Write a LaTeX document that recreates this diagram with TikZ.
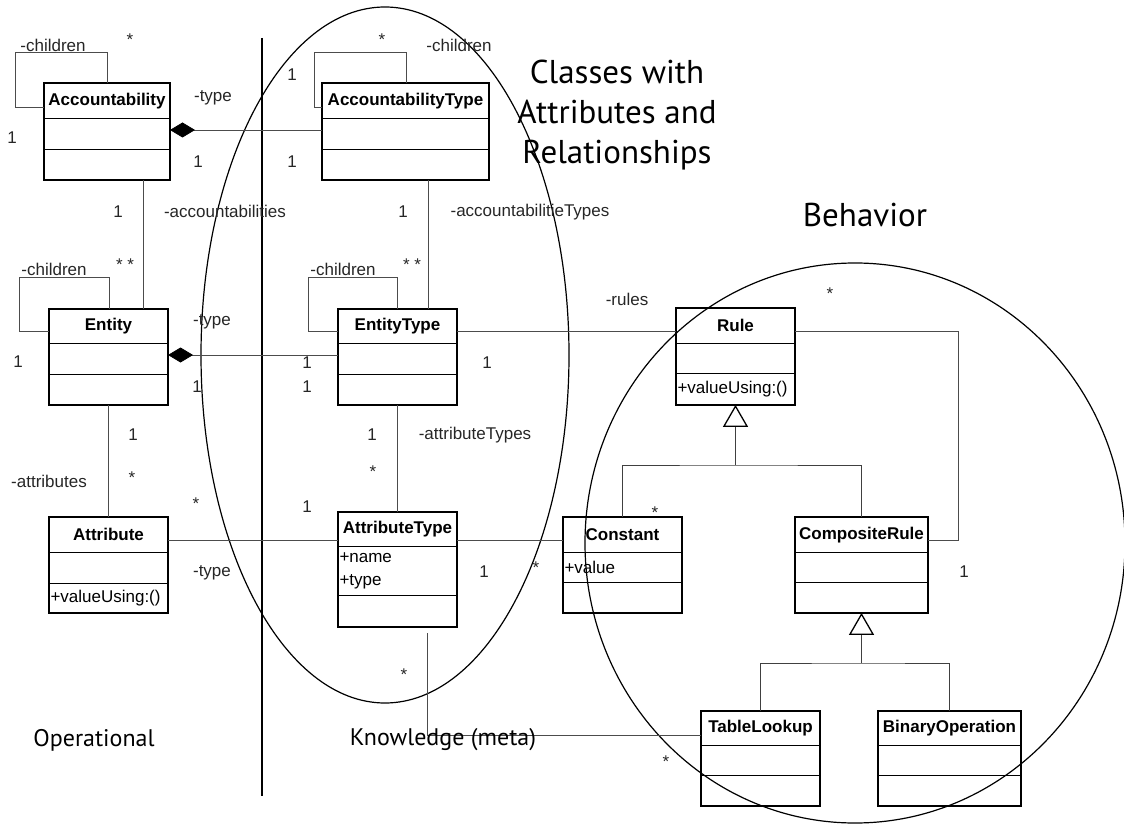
\documentclass[tikz,border=0pt]{standalone}
\usepackage{fontspec}
\setmainfont{Liberation Sans}
\newfontfamily\titlefont{PT Sans}
\usetikzlibrary{arrows.meta,shapes.multipart,positioning}

% class box compartments: {width}{height}{text}
\newcommand{\hd}[3]{\parbox[c][#2pt][c]{#1pt}{\centering\bfseries #3}}
\newcommand{\cp}[3]{\parbox[c][#2pt][c]{#1pt}{\raggedright\leftskip=1.5pt\relax #3}}

\begin{document}
\begin{tikzpicture}[x=1pt,y=-1pt,
    font=\fontsize{17}{23}\selectfont,
    cls/.style={rectangle split,rectangle split parts=3,draw,line width=1.3pt,
                inner sep=0pt,outer sep=0pt,anchor=north west},
    assoc/.style={draw=black!70,line width=0.8pt},
    comp/.style={{Diamond[length=25pt,width=15pt,color=black]}-},
    inh/.style={draw=black!75,line width=0.9pt},
    gen/.style={-{Triangle[open,length=22pt,width=25pt,line width=1.3pt,color=black]}},
    lbl/.style={inner sep=0pt,text=black!85},
    big/.style={inner sep=0pt,font=\titlefont\fontsize{33}{40}\selectfont,align=center},
    region/.style={line width=1.2pt}]

  \useasboundingbox (0,0) rectangle (1124,826);

  % regions
  \draw[region] (385,355) ellipse [x radius=184pt,y radius=348pt];
  \draw[region] (855,543) ellipse [x radius=270pt,y radius=280pt];
  \draw[line width=2.6pt] (262,38) -- (262,796);

  % operational classes
  \node[cls] (acc) at (44,83) {\hd{126}{34}{Accountability}\nodepart{two}\cp{126}{30}{}\nodepart{three}\cp{126}{29}{}};
  \node[cls] (entity) at (49,309) {\hd{119}{33}{Entity}\nodepart{two}\cp{119}{30}{}\nodepart{three}\cp{119}{29}{}};
  \node[cls] (attribute) at (49,517) {\hd{119}{34}{Attribute}\nodepart{two}\cp{119}{30}{}\nodepart{three}\cp{119}{28}{+valueUsing:()}};

  % knowledge classes
  \node[cls] (acctype) at (322,83) {\hd{167}{34}{AccountabilityType}\nodepart{two}\cp{167}{30}{}\nodepart{three}\cp{167}{29}{}};
  \node[cls] (entitytype) at (338,309) {\hd{119}{33}{EntityType}\nodepart{two}\cp{119}{30}{}\nodepart{three}\cp{119}{29}{}};
  \node[cls] (attrtype) at (338,512) {\hd{119}{33}{AttributeType}\nodepart{two}\cp{119}{48}{+name\\+type}\nodepart{three}\cp{119}{30}{}};

  % behavior classes
  \node[cls] (rule) at (676,308) {\hd{119}{34}{Rule}\nodepart{two}\cp{119}{29}{}\nodepart{three}\cp{119}{30}{+valueUsing:()}};
  \node[cls] (constant) at (563,517) {\hd{119}{34}{Constant}\nodepart{two}\cp{119}{29}{+value}\nodepart{three}\cp{119}{29}{}};
  \node[cls] (comprule) at (795,517) {\hd{133}{34}{CompositeRule}\nodepart{two}\cp{133}{29}{}\nodepart{three}\cp{133}{29}{}};
  \node[cls] (tablelookup) at (701,711) {\hd{119}{33}{TableLookup}\nodepart{two}\cp{119}{29}{}\nodepart{three}\cp{119}{29}{}};
  \node[cls] (binop) at (878,711) {\hd{143}{33}{BinaryOperation}\nodepart{two}\cp{143}{29}{}\nodepart{three}\cp{143}{29}{}};

  \coordinate (kn) at (427,633);

  % self associations
  \draw[assoc] (acc.west |- 0,107) -| (15,52) -| (acc.north -| 107,0);
  \draw[assoc] (acctype.west |- 0,107) -| (314,52) -| (acctype.north -| 406,0);
  \draw[assoc] (entity.west |- 0,331) -| (19,277) -| (entity.north -| 109,0);
  \draw[assoc] (entitytype.west |- 0,331) -| (308,277) -| (entitytype.north -| 397,0);

  % associations
  \draw[assoc,comp] (acc.east |- 0,130) -- (acctype.west |- 0,130);
  \draw[assoc,comp] (entity.east |- 0,355) -- (entitytype.west |- 0,355);
  \draw[assoc] (acc.south -| 143,0) -- (entity.north -| 143,0);
  \draw[assoc] (acctype.south -| 428,0) -- (entitytype.north -| 428,0);
  \draw[assoc] (entity.south) -- (attribute.north);
  \draw[assoc] (entitytype.south) -- (attrtype.north);
  \draw[assoc] (attribute.east |- 0,540) -- (attrtype.west |- 0,540);
  \draw[assoc] (attrtype.east |- 0,540) -- (constant.west |- 0,540);
  \draw[assoc] (entitytype.east |- 0,331) -- (rule.west |- 0,331);
  \draw[assoc] (rule.east |- 0,331) -| (958,540) -- (comprule.east |- 0,540);
  \draw[assoc] (kn) |- (tablelookup.west |- 0,735);

  % generalizations
  \draw[inh] (constant.north) |- (rule.south |- 0,465) -| (comprule.north);
  \draw[inh,gen] (rule.south |- 0,465) -- (rule.south);
  \draw[inh] (tablelookup.north) |- (comprule.south |- 0,663) -| (binop.north);
  \draw[inh,gen] (comprule.south |- 0,663) -- (comprule.south);

  % roles
  \node[lbl] (r1) at (53,45) {-children};
  \node[lbl] (r2) at (459,45) {-children};
  \node[lbl] (r3) at (54,269) {-children};
  \node[lbl] (r4) at (343,269) {-children};
  \node[lbl] (r5) at (213,98) {-type};
  \node[lbl] (r6) at (212,322) {-type};
  \node[lbl] (r7) at (212,573) {-type};
  \node[lbl] (r8) at (225,211) {-accountabilities};
  \node[lbl] (r9) at (530,212) {-accountabilitieTypes};
  \node[lbl] (r10) at (49,481) {-attributes};
  \node[lbl] (r11) at (475,435) {-attributeTypes};
  \node[lbl] (r12) at (627,299) {-rules};

  % multiplicities
  \foreach \p/\t [count=\i] in {(12,138)/1, (130,40)/*, (198,162)/1, (292,162)/1, (292,75)/1,
      (382,40)/*, (118,212)/1, (403,212)/1, (125,265)/* *, (412,265)/* *, (18,362)/1,
      (197,387)/1, (307,363)/1, (307,387)/1, (487,363)/1, (830,294)/*, (133,435)/1,
      (132,478)/*, (372,435)/1, (373,472)/*, (196,504)/*, (307,507)/1, (484,572)/1,
      (536,568)/*, (655,513)/*, (964,572)/1, (404,675)/*, (666,762)/*}
    \node[lbl] (m\i) at \p {\t};

  % region titles
  \node[big] (classes) at (617,115) {Classes with\\Attributes and\\Relationships};
  \node[big] (behavior) at (865,215) {Behavior};
  \node[big,font=\titlefont\fontsize{24}{28}\selectfont] (oper) at (94,740) {Operational};
  \node[big,font=\titlefont\fontsize{24}{28}\selectfont] (know) at (443,740) {Knowledge (meta)};
\end{tikzpicture}
\end{document}
